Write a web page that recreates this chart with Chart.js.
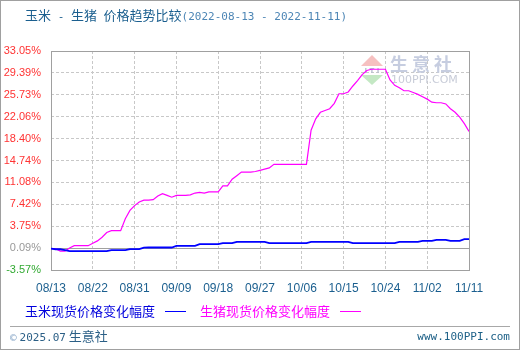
<!DOCTYPE html>
<html>
<head>
<meta charset="utf-8">
<script src="https://cdn.jsdelivr.net/npm/chart.js@4.4.0/dist/chart.umd.min.js"></script>
<style>
  html, body { margin: 0; padding: 0; background: #fff; }
  #frame { position: relative; width: 520px; height: 350px; box-sizing: border-box; border: 1px solid #a0a0a0; overflow: hidden; }
  #chartCanvas { position: absolute; left: -1px; top: -1px; }
  .txt { position: absolute; white-space: pre; font-family: "Noto Sans CJK SC", sans-serif; font-size: 13px; line-height: 16px; }
  .mono { font-family: "DejaVu Sans Mono", monospace; font-size: 11px; }
  .lg { position: absolute; height: 0; border-top: 1px solid; }
  #sep { position: absolute; left: 9px; top: 325px; width: 500px; border-top: 1px solid #a8a8a8; }
</style>
</head>
<body>
<div id="frame">
  <canvas id="chartCanvas" width="520" height="350"></canvas>
  <div class="txt" style="left:24px; top:6px; color:#1b5f8f;">玉米<span class="mono"> - </span>生猪<span class="mono"> </span>价格趋势比较<span class="mono" style="color:#4d86b5;">(2022-08-13 - 2022-11-11)</span></div>
  <div class="txt" style="left:24px; top:302px; color:#0000dd;">玉米现货价格变化幅度</div>
  <div class="lg" style="left:164px; top:310px; width:21px; border-color:#0000ff;"></div>
  <div class="txt" style="left:199px; top:302px; color:#ff00ff;">生猪现货价格变化幅度</div>
  <div class="lg" style="left:339px; top:310px; width:21px; border-color:#ff00ff;"></div>
  <div id="sep"></div>
  <div class="txt" style="left:9px; top:327px; color:#2b5f86;"><span class="mono" style="color:#8aa8c8;">©</span> <span class="mono">2025.07</span> 生意社</div>
  <div class="txt mono" style="right:9px; top:328px; color:#1b5f86;">www.100PPI.com</div>
</div>
<script>
// x ticks every 9 days, 08/13 .. 11/11
const xTickLabels = ["08/13", "08/22", "08/31", "09/09", "09/18", "09/27", "10/06", "10/15", "10/24", "11/02", "11/11"];
const yTicks = [-3.57, 0.09, 3.75, 7.42, 11.08, 14.74, 18.40, 22.06, 25.73, 29.39, 33.05];

// daily change (%) from 2022-08-13, one value per day
const cornValues = [
    0, -0.1, -0.1, -0.25, -0.41, -0.41, -0.41, -0.41, -0.41, -0.41,
    -0.41, -0.41, -0.41, -0.24, -0.24, -0.24, -0.24, -0.08, -0.08, -0.08,
    0.16, 0.19, 0.19, 0.19, 0.19, 0.19, 0.19, 0.47, 0.47, 0.47,
    0.47, 0.47, 0.75, 0.75, 0.75, 0.75, 0.75, 0.92, 0.92, 0.92,
    1.14, 1.14, 1.14, 1.14, 1.14, 1.14, 1.14, 0.92, 0.92, 0.92,
    0.92, 0.92, 0.92, 0.92, 0.92, 0.92, 1.14, 1.14, 1.14, 1.14,
    1.14, 1.14, 1.14, 1.14, 1.14, 0.92, 0.92, 0.92, 0.92, 0.92,
    0.92, 0.92, 0.92, 0.92, 0.92, 1.14, 1.14, 1.14, 1.14, 1.14,
    1.3, 1.3, 1.3, 1.47, 1.47, 1.47, 1.3, 1.3, 1.3, 1.6,
    1.6
];
const hogValues = [
    0, 0, -0.4, -0.4, 0.1, 0.5, 0.5, 0.5, 0.5, 0.9,
    1.3, 1.9, 2.7, 3.0, 3.0, 3.0, 5.0, 6.4, 7.2, 7.8,
    8.1, 8.1, 8.2, 8.8, 9.2, 8.9, 8.6, 8.9, 8.9, 8.9,
    9.0, 9.3, 9.4, 9.3, 9.5, 9.5, 9.5, 10.5, 10.5, 11.6,
    12.2, 12.8, 12.8, 12.8, 12.9, 13.1, 13.3, 13.5, 14.1, 14.1,
    14.1, 14.1, 14.1, 14.1, 14.1, 14.1, 19.8, 21.7, 22.8, 23.1,
    23.4, 24.3, 25.9, 25.9, 26.2, 27.2, 28.1, 29.1, 29.8, 30.0,
    30.0, 30.0, 30.0, 28.2, 27.3, 26.9, 26.4, 26.4, 26.1, 25.8,
    25.4, 25.0, 24.5, 24.4, 24.4, 24.2, 23.4, 22.8, 22.0, 20.9,
    19.6
];

const toPoints = arr => arr.map((v, i) => ({ x: i, y: v }));

// frame, solid 0.09 line and the watermark
const decor = {
    id: 'decor',
    beforeDatasetsDraw(chart) {
        const { ctx, chartArea: a, scales } = chart;
        ctx.save();
        // watermark
        ctx.fillStyle = '#f6c0c0';
        ctx.beginPath();
        ctx.moveTo(372, 55); ctx.lineTo(383, 66); ctx.lineTo(361, 66); ctx.closePath(); ctx.fill();
        ctx.fillStyle = '#c4e8c4';
        ctx.beginPath();
        ctx.moveTo(361, 75); ctx.lineTo(383, 75); ctx.lineTo(372, 85); ctx.closePath(); ctx.fill();
        ctx.fillStyle = '#b8bfd0';
        ctx.font = 'bold 7px "DejaVu Sans"';
        ctx.textAlign = 'center';
        ctx.textBaseline = 'middle';
        ctx.fillText('I T I', 372, 71);
        ctx.fillStyle = '#c6cde0';
        ctx.font = 'bold 18px "Noto Sans CJK SC"';
        ctx.textAlign = 'left';
        ctx.fillText('生', 390, 64);
        ctx.fillText('意', 412, 64);
        ctx.fillText('社', 434, 64);
        ctx.fillStyle = '#c8ccd8';
        ctx.font = '11px "DejaVu Sans"';
        ctx.fillText('100PPI.COM', 391, 80);

        // 0.09 line
        const y0 = Math.round(scales.y.getPixelForValue(0.09)) + 0.5;
        ctx.strokeStyle = '#a0a0a0';
        ctx.lineWidth = 1;
        ctx.beginPath();
        ctx.moveTo(a.left, y0); ctx.lineTo(a.right, y0);
        ctx.stroke();
        // plot frame
        ctx.strokeRect(Math.round(a.left) + 0.5, Math.round(a.top) + 0.5,
            Math.round(a.right - a.left), Math.round(a.bottom - a.top));
        ctx.restore();
    }
};

const ctx = document.getElementById('chartCanvas').getContext('2d');
new Chart(ctx, {
    type: 'line',
    data: {
        datasets: [{
            label: '玉米现货价格变化幅度',
            data: toPoints(cornValues),
            borderColor: '#0000ff',
            borderWidth: 1.8,
            pointRadius: 0,
            tension: 0
        }, {
            label: '生猪现货价格变化幅度',
            data: toPoints(hogValues),
            borderColor: '#ff00ff',
            borderWidth: 1.2,
            pointRadius: 0,
            tension: 0
        }]
    },
    options: {
        responsive: false,
        animation: false,
        layout: { padding: { left: 0, top: 51, right: 51, bottom: 0 } },
        plugins: {
            legend: { display: false },
            tooltip: { enabled: false }
        },
        scales: {
            x: {
                type: 'linear',
                min: 0,
                max: 90,
                afterBuildTicks: s => { s.ticks = xTickLabels.map((t, i) => ({ value: i * 9 })); },
                afterFit: s => { s.height = 80; },
                ticks: {
                    color: '#1b5f8f',
                    font: { family: 'Liberation Sans', size: 12 },
                    padding: 11,
                    maxRotation: 0,
                    callback: (v, i) => xTickLabels[i]
                },
                grid: { color: '#c8c8c8', drawTicks: false },
                border: { display: false, dash: [3, 2] }
            },
            y: {
                min: -3.57,
                max: 33.05,
                afterBuildTicks: s => { s.ticks = yTicks.map(v => ({ value: v })); },
                afterFit: s => { s.width = 51; },
                ticks: {
                    font: { family: 'Liberation Sans', size: 11 },
                    padding: 10,
                    color: c => {
                        const v = yTicks[c.index];
                        if (v < 0) return '#33aa33';
                        if (v < 0.5) return '#999999';
                        return '#ff3333';
                    },
                    callback: (v, i) => yTicks[i].toFixed(2) + '%'
                },
                grid: { color: '#c8c8c8', drawTicks: false },
                border: { display: false, dash: [3, 2] }
            }
        }
    },
    plugins: [decor]
});
</script>
</body>
</html>
